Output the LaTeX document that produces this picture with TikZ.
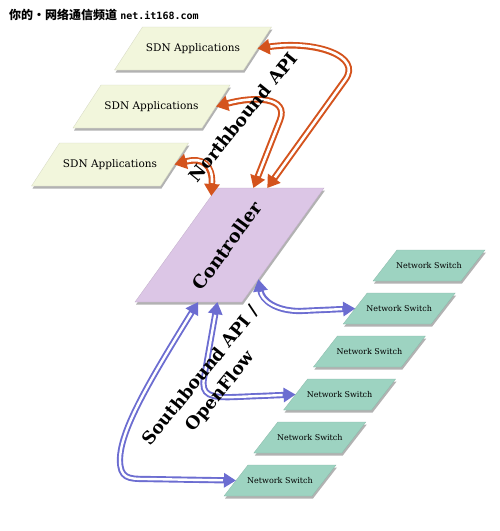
\documentclass[tikz,border=0pt]{standalone}
\usepackage{fontspec}
\setmainfont{DejaVu Serif}
\newfontfamily\cjkfont{Noto Sans CJK SC}
\newfontfamily\wmmono{DejaVu Sans Mono}
\usetikzlibrary{arrows.meta,shadows,calc}
\definecolor{appfill}{HTML}{F2F6DC}
\definecolor{ctrlfill}{HTML}{DCC6E6}
\definecolor{swfill}{HTML}{9DD3C1}
\definecolor{orng}{HTML}{D4531D}
\definecolor{blu}{HTML}{6C6DD1}
% #1 name, #2 cx, #3 cy, #4 top width, #5 skew, #6 height, #7 style
\newcommand\parashape[7]{%
  \begin{scope}[shift={(#2,#3)}]
    \coordinate (#1-tl) at ({-#4/2+#5/2},{-#6/2});
    \coordinate (#1-tr) at ({#4/2+#5/2},{-#6/2});
    \coordinate (#1-br) at ({#4/2-#5/2},{#6/2});
    \coordinate (#1-bl) at ({-#4/2-#5/2},{#6/2});
  \end{scope}
  \path[#7] (#1-tl) -- (#1-tr) -- (#1-br) -- (#1-bl) -- cycle;
  \coordinate (#1-r) at ($(#1-tr)!0.5!(#1-br)$);
  \coordinate (#1-l) at ($(#1-tl)!0.5!(#1-bl)$);
}
\begin{document}
\begin{tikzpicture}[x=1pt,y=-1pt,
  shad/.style={drop shadow={shadow xshift=1pt, shadow yshift=-2.5pt, opacity=0.3, fill=black}},
  appshape/.style={shad, fill=appfill, draw=appfill!88!black, line width=0.3pt},
  ctrlshape/.style={shad, fill=ctrlfill, draw=ctrlfill!88!black, line width=0.3pt},
  swshape/.style={shad, fill=swfill, draw=swfill!88!black, line width=0.3pt},
  apptext/.style={font=\fontsize{10.5}{12}\selectfont, inner sep=1pt},
  swtext/.style={font=\fontsize{8}{10}\selectfont, inner sep=1pt},
  biglabel/.style={rotate=51, font=\bfseries\fontsize{17.5}{25}\selectfont, align=center},
  orarrow/.style={draw=orng, line width=6.6pt,
    {Triangle[width=15pt,length=12pt]}-{Triangle[width=15pt,length=12pt]},
    postaction={draw=white, line width=2.6pt, arrows=-, shorten <=13pt, shorten >=13pt}},
  blarrow/.style={draw=blu, line width=6.2pt,
    {Triangle[width=14pt,length=12pt]}-{Triangle[width=14pt,length=12pt]},
    postaction={draw=white, line width=2.4pt, arrows=-, shorten <=13pt, shorten >=13pt}}
]
\useasboundingbox (0,0) rectangle (500,531);
\fill[white] (0,0) rectangle (500,531);

% watermark
\node[anchor=west, inner sep=0pt] (wm) at (9,15)
  {{\cjkfont\bfseries\fontsize{12}{14}\selectfont 你的·网络通信频道} {\wmmono\bfseries\fontsize{10}{12}\selectfont net.it168.com}};

% applications
\parashape{a1}{193}{48.5}{129}{28}{43}{appshape}
\parashape{a2}{151.5}{106.5}{129}{28}{43}{appshape}
\parashape{a3}{110}{164.5}{129}{28}{43}{appshape}
\node[apptext] (app1) at (193,48.5) {SDN Applications};
\node[apptext] (app2) at (151.5,106.5) {SDN Applications};
\node[apptext] (app3) at (110,164.5) {SDN Applications};

% controller
\parashape{c}{229.5}{245}{107}{82}{114}{ctrlshape}
\node[rotate=54, font=\bfseries\fontsize{18}{20}\selectfont] (ctrl) at (227,246) {Controller};

% switches
\parashape{s1}{429}{265.5}{88}{24}{31}{swshape}
\parashape{s2}{399.2}{308.5}{88}{24}{31}{swshape}
\parashape{s3}{369.4}{351.5}{88}{24}{31}{swshape}
\parashape{s4}{339.6}{394.5}{88}{24}{31}{swshape}
\parashape{s5}{309.8}{437.5}{88}{24}{31}{swshape}
\parashape{s6}{280}{480.5}{88}{24}{31}{swshape}
\node[swtext] (sw1) at (429,265.5) {Network Switch};
\node[swtext] (sw2) at (399.2,308.5) {Network Switch};
\node[swtext] (sw3) at (369.4,351.5) {Network Switch};
\node[swtext] (sw4) at (339.6,394.5) {Network Switch};
\node[swtext] (sw5) at (309.8,437.5) {Network Switch};
\node[swtext] (sw6) at (280,480.5) {Network Switch};

% attachment points on the controller
\coordinate (nb1) at ($(c-tl)!0.47!(c-tr)$);
\coordinate (nb2) at ($(c-tl)!0.34!(c-tr)$);
\coordinate (nb3) at ($(c-tl)!0.07!(c-bl)$);
\coordinate (sb1) at ($(c-tr)!0.8!(c-br)$);
\coordinate (sb2) at ($(c-bl)!0.77!(c-br)$);
\coordinate (sb3) at ($(c-bl)!0.59!(c-br)$);

% northbound arrows
\draw[orarrow] (a1-r) .. controls (315,40) and (363,56) .. (345,80) -- (nb1);
\draw[orarrow] (a2-r) .. controls (255,96) and (289,97) .. (280,120) -- (nb2);
\draw[orarrow] (a3-r) .. controls (203,157) and (213,165) .. (nb3);

% southbound arrows
\draw[blarrow] (sb1) .. controls (262,300) and (275,311) .. (300,311) -- (s2-l);
\draw[blarrow] (sb2) -- (204,378) .. controls (201,395) and (210,398) .. (235,397) -- (s4-l);
\draw[blarrow] (sb3) .. controls (150,380) and (120,430) .. (120,460)
  .. controls (120,478) and (128,479) .. (145,479) -- (s6-l);

% labels
\node[biglabel] (nbl) at (243,117) {Northbound API};
\node[biglabel] (sbl) at (211,384) {Southbound API /\\OpenFlow};
\end{tikzpicture}
\end{document}
